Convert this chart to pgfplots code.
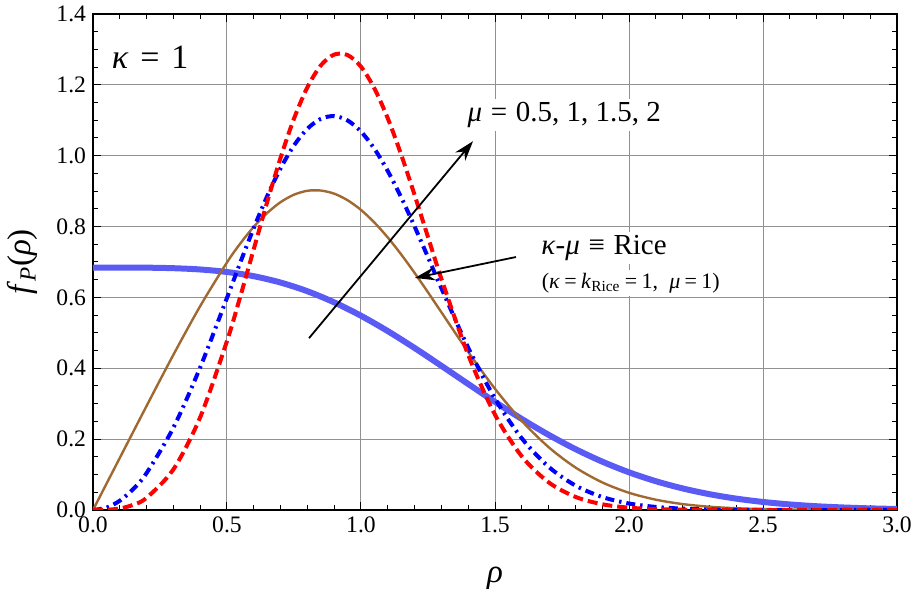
\documentclass[border=0pt]{standalone}
\usepackage{fontspec}
\setmainfont{Liberation Serif}
\usepackage{pgfplots}
\pgfplotsset{compat=1.18}
\usetikzlibrary{arrows.meta,calc}
\definecolor{lblue}{RGB}{90,90,245}
\definecolor{brownc}{RGB}{160,105,50}
\definecolor{gridc}{RGB}{145,145,145}
\newcommand{\eqs}{\kern0.3em=\kern0.3em}

\pgfplotstableread{
x y
0.0 0.6843
0.1 0.6843
0.2 0.6840
0.3 0.6825
0.4 0.6789
0.5 0.6718
0.6 0.6599
0.7 0.6420
0.8 0.6175
0.9 0.5861
1.0 0.5483
1.1 0.5049
1.2 0.4573
1.3 0.4069
1.4 0.3557
1.5 0.3052
1.6 0.2569
1.7 0.2122
1.8 0.1719
1.9 0.1366
2.0 0.1064
2.1 0.0813
2.2 0.0609
2.3 0.0447
2.4 0.0321
2.5 0.0227
2.6 0.0157
2.7 0.0106
2.8 0.0071
2.9 0.0046
3.0 0.0029
}\muhalf

\pgfplotstableread{
x y
0.0 0.0
0.1 0.1471
0.2 0.2938
0.3 0.4382
0.4 0.5755
0.5 0.6989
0.55 0.7526
0.6 0.7995
0.65 0.8383
0.7 0.8690
0.75 0.8900
0.8 0.9010
0.85 0.9017
0.9 0.8929
0.95 0.8743
1.0 0.8469
1.05 0.8114
1.1 0.7691
1.15 0.7213
1.2 0.6692
1.25 0.6144
1.3 0.5581
1.4 0.4462
1.5 0.3421
1.6 0.2515
1.7 0.1774
1.8 0.1201
1.9 0.0780
2.0 0.0486
2.1 0.0291
2.2 0.0167
2.3 0.0092
2.4 0.0049
2.5 0.0025
2.6 0.0012
2.7 0.0006
2.8 0.0003
2.9 0.0001
3.0 0.0000
}\muone

\pgfplotstableread{
x y
0.0 0.0
0.05 0.0065
0.1 0.0262
0.15 0.0590
0.2 0.1044
0.3 0.2324
0.4 0.4026
0.5 0.5988
0.55 0.6992
0.6 0.7962
0.65 0.8860
0.7 0.9647
0.75 1.0290
0.8 1.0761
0.85 1.1041
0.9 1.1118
0.95 1.0995
1.0 1.0681
1.05 1.0196
1.1 0.9566
1.15 0.8823
1.2 0.8001
1.25 0.7135
1.3 0.6258
1.4 0.4582
1.5 0.3144
1.6 0.2023
1.7 0.1220
1.8 0.0691
1.9 0.0367
2.0 0.0184
2.1 0.0086
2.2 0.0038
2.3 0.0016
2.4 0.0006
2.5 0.0002
2.6 0.0
2.8 0.0
3.0 0.0
}\muonehalf

\pgfplotstableread{
x y
0.0 0.0
0.05 0.0005
0.1 0.0043
0.15 0.0146
0.2 0.0345
0.3 0.1147
0.4 0.2618
0.5 0.4770
0.55 0.6036
0.6 0.7366
0.65 0.8694
0.7 0.9945
0.75 1.1047
0.8 1.1933
0.85 1.2548
0.9 1.2855
0.95 1.2841
1.0 1.2513
1.05 1.1900
1.1 1.1054
1.15 1.0029
1.2 0.8891
1.25 0.7703
1.3 0.6525
1.4 0.4379
1.5 0.2690
1.6 0.1515
1.7 0.0782
1.8 0.0371
1.9 0.0162
2.0 0.0065
2.1 0.0024
2.2 0.0008
2.3 0.0003
2.4 0.0001
2.5 0.0
2.8 0.0
3.0 0.0
}\mutwo

\begin{document}
\begin{tikzpicture}
\begin{axis}[
  scale only axis,
  width=402bp, height=248bp,
  xmin=0, xmax=3, ymin=0, ymax=1.4,
  xtick={0,0.5,1,1.5,2,2.5,3},
  ytick={0,0.2,0.4,0.6,0.8,1.0,1.2,1.4},
  minor x tick num=4, minor y tick num=3,
  tick align=inside,
  major tick length=4bp, minor tick length=2.5bp,
  tick style={black, line width=0.5bp},
  grid=major,
  major grid style={gridc, line width=0.5bp},
  axis line style={black, line width=0.6bp},
  tick label style={font=\fontsize{11.8bp}{13bp}\selectfont},
  xticklabel style={/pgf/number format/.cd, fixed, fixed zerofill, precision=1, assume math mode=true},
  yticklabel style={/pgf/number format/.cd, fixed, fixed zerofill, precision=1, assume math mode=true},
  xlabel={\textit{ρ}},
  ylabel={\textit{f}\textsubscript{\textit{P}}(\textit{ρ})},
  label style={font=\fontsize{16.5bp}{18bp}\selectfont},
  xlabel style={at={(axis description cs:0.5,-0.137)}, anchor=center},
  ylabel style={at={(axis description cs:-0.088,0.5)}, anchor=center},
  clip=true,
]
\addplot[lblue, line width=3bp, smooth] table {\muhalf};
\addplot[brownc, line width=1.2bp, smooth] table {\muone};
\addplot[blue, line width=2bp, smooth, dash pattern=on 4.5bp off 2.5bp on 1.2bp off 2.5bp] table {\muonehalf};
\addplot[red, line width=2bp, smooth, dash pattern=on 5bp off 2.5bp] table {\mutwo};

\node[font=\fontsize{17bp}{18bp}\selectfont] at (axis cs:0.213,1.279) {\textit{κ}\kern0.35em=\kern0.35em1};

\draw[black, line width=0.9bp, -{Stealth[length=10bp,width=6.5bp]}] (axis cs:0.806,0.485) -- (axis cs:1.418,1.041);
\node[fill=white, inner sep=1.5bp, anchor=west, font=\fontsize{14.5bp}{16bp}\selectfont] at (axis cs:1.385,1.115) {\textit{μ}\eqs 0.5, 1, 1.5, 2};

\draw[black, line width=0.9bp, -{Stealth[length=10bp,width=6.5bp]}] (axis cs:1.578,0.714) -- (axis cs:1.201,0.655);
\node[fill=white, inner sep=1.5bp, font=\fontsize{14.5bp}{16bp}\selectfont] at (axis cs:1.907,0.739) {\textit{κ}-\textit{μ}\kern0.3em≡\kern0.3em Rice};
\node[fill=white, inner sep=1.5bp, font=\fontsize{11bp}{12bp}\selectfont] at (axis cs:2.007,0.641) {(\textit{κ}\kern0.2em=\kern0.2em\textit{k}\textsubscript{Rice}\kern0.2em=\kern0.2em1,\ \ \textit{μ}\kern0.2em=\kern0.2em1)};
\end{axis}
\pgfresetboundingbox
\path ($(current axis.south west)+(-46.5bp,-45.5bp)$) rectangle ($(current axis.north east)+(7.5bp,7bp)$);
\end{tikzpicture}
\end{document}
